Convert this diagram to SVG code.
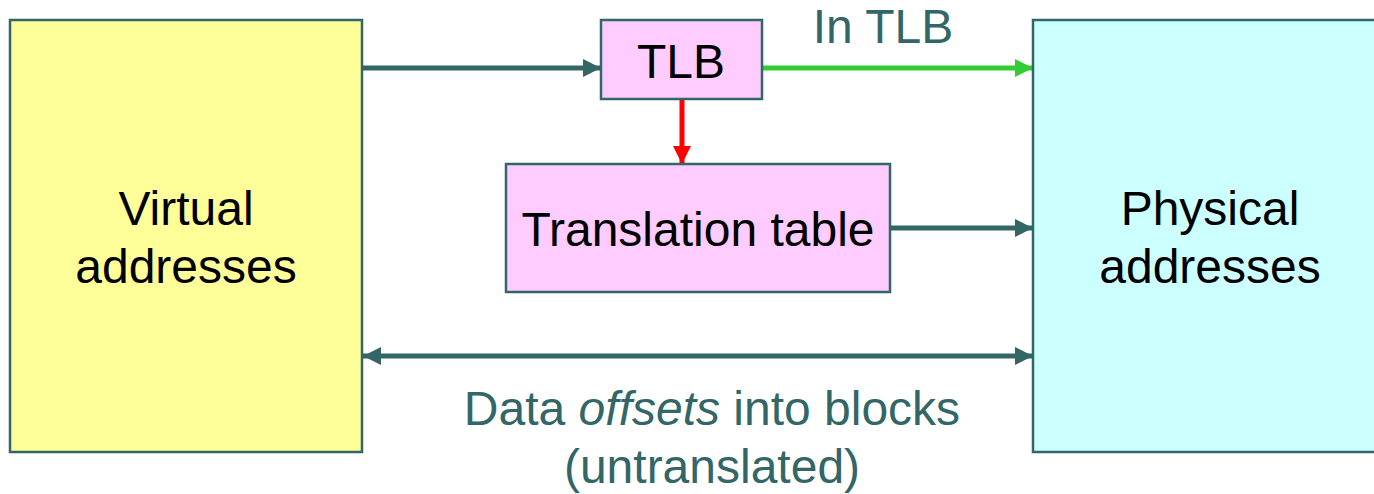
<svg xmlns="http://www.w3.org/2000/svg" width="1374" height="494" viewBox="0 0 1374 494">
<style>
.box{stroke:#336666;stroke-width:2.5}
.t{font-family:"Liberation Sans",Arial,sans-serif;font-size:48px;fill:#000;text-anchor:middle}
.lbl{font-family:"Liberation Sans",Arial,sans-serif;font-size:48px;fill:#336666;text-anchor:middle}
.c{fill:none;stroke-width:5}
</style>
<defs>
<marker id="ah" markerUnits="userSpaceOnUse" markerWidth="18" markerHeight="18" refX="18" refY="9" orient="auto-start-reverse" viewBox="0 0 18 18"><path d="M0,0 L18,9 L0,18 Z" fill="#336666"/></marker>
<marker id="ahg" markerUnits="userSpaceOnUse" markerWidth="18" markerHeight="18" refX="18" refY="9" orient="auto" viewBox="0 0 18 18"><path d="M0,0 L18,9 L0,18 Z" fill="#33cc33"/></marker>
<marker id="ahr" markerUnits="userSpaceOnUse" markerWidth="18" markerHeight="18" refX="18" refY="9" orient="auto" viewBox="0 0 18 18"><path d="M0,0 L18,9 L0,18 Z" fill="#ff0000"/></marker>
</defs>
<rect width="1374" height="494" fill="#fff"/>
<g id="connectors">
<line class="c" x1="363" y1="68" x2="601" y2="68" stroke="#336666" marker-end="url(#ah)"/>
<line class="c" x1="763" y1="68" x2="1033" y2="68" stroke="#33cc33" marker-end="url(#ahg)"/>
<line class="c" x1="682" y1="100" x2="682" y2="164" stroke="#ff0000" marker-end="url(#ahr)"/>
<line class="c" x1="891" y1="228" x2="1033" y2="228" stroke="#336666" marker-end="url(#ah)"/>
<line class="c" x1="363" y1="356" x2="1033" y2="356" stroke="#336666" marker-start="url(#ah)" marker-end="url(#ah)"/>
<text class="lbl" x="883" y="43">In TLB</text>
<text class="lbl" x="712" y="425">Data <tspan font-style="italic">offsets</tspan> into blocks</text>
<text class="lbl" x="712" y="483">(untranslated)</text>
</g>
<g id="virtual">
<rect class="box" x="10" y="20" width="352" height="432" fill="#ffff99"/>
<text class="t" x="186" y="225">Virtual</text>
<text class="t" x="186" y="283">addresses</text>
</g>
<g id="physical">
<rect class="box" x="1033" y="20" width="353" height="432" fill="#ccffff"/>
<text class="t" x="1210" y="225">Physical</text>
<text class="t" x="1210" y="283">addresses</text>
</g>
<g id="tlb">
<rect class="box" x="601" y="20" width="161" height="79" fill="#ffccff"/>
<text class="t" x="681" y="78">TLB</text>
</g>
<g id="table">
<rect class="box" x="506" y="164" width="384" height="128" fill="#ffccff"/>
<text class="t" x="698" y="246">Translation table</text>
</g>
</svg>
